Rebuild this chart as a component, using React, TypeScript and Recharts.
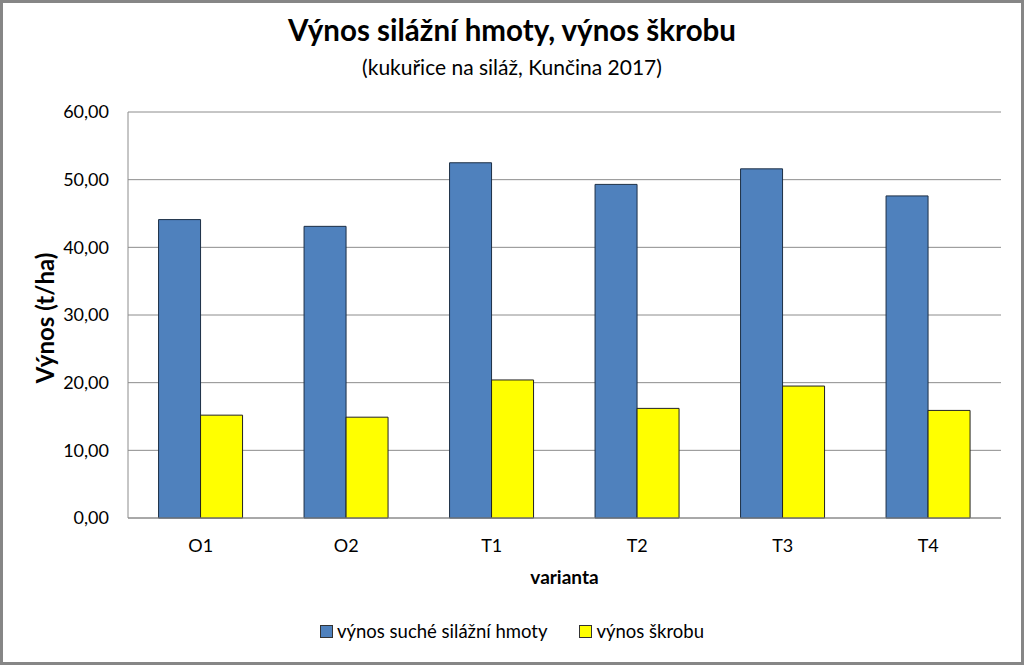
import React from 'react';
import { BarChart, Bar, XAxis, YAxis, CartesianGrid, Legend } from 'recharts';

const varianty = ['O1', 'O2', 'T1', 'T2', 'T3', 'T4'];
const vynosHmoty = [44.1, 43.1, 52.5, 49.3, 51.6, 47.6];
const vynosSkrobu = [15.2, 14.9, 20.4, 16.2, 19.5, 15.9];
const yTicks = [0, 10, 20, 30, 40, 50, 60];

const data = varianty.map((v, i) => ({
  varianta: v,
  hmota: vynosHmoty[i],
  skrob: vynosSkrobu[i],
}));

const font = 'Lato, "Noto Sans", sans-serif';
const gridColor = '#8c8c8c';

const formatTick = (n: number) => n.toFixed(2).replace('.', ',');

const LegendBox: React.FC<any> = ({ payload }) => (
  <div style={{ display: 'flex', justifyContent: 'center', alignItems: 'center', fontFamily: font, fontSize: 18.5, color: '#000' }}>
    {(payload || []).map((p: any, i: number) => (
      <div key={p.value} style={{ display: 'flex', alignItems: 'center', marginLeft: i === 0 ? 0 : 32 }}>
        <span
          style={{
            display: 'inline-block',
            width: 11,
            height: 11,
            background: p.color,
            border: '1px solid #333',
            marginRight: 4,
          }}
        />
        <span>{p.value}</span>
      </div>
    ))}
  </div>
);

const App: React.FC = () => {
  return (
    <div style={{ position: 'absolute', left: 0, top: 0, width: 1024, height: 665, background: '#fff', fontFamily: font }}>
      <BarChart
        width={1024}
        height={665}
        data={data}
        margin={{ top: 112, right: 23, bottom: 0, left: 0 }}
        barCategoryGap="21%"
        barGap={0}
      >
        <CartesianGrid vertical={false} stroke={gridColor} />
        <XAxis
          dataKey="varianta"
          height={147}
          axisLine={{ stroke: gridColor }}
          tickLine={false}
          tickSize={0}
          tickMargin={21}
          tick={{ fill: '#000', fontSize: 18, fontFamily: font }}
        />
        <YAxis
          domain={[0, 60]}
          ticks={yTicks}
          width={128}
          axisLine={{ stroke: gridColor }}
          tickLine={false}
          tickSize={0}
          tickMargin={19}
          tickFormatter={formatTick}
          tick={{ fill: '#000', fontSize: 18, fontFamily: font }}
        />
        <Legend
          verticalAlign="middle"
          align="center"
          layout="horizontal"
          content={<LegendBox />}
          wrapperStyle={{ top: 620, left: 0, width: 1024 }}
        />
        <Bar dataKey="hmota" name="výnos suché silážní hmoty" fill="#4F81BD" stroke="#1d2f45" strokeWidth={1} isAnimationActive={false} />
        <Bar dataKey="skrob" name="výnos škrobu" fill="#FFFF00" stroke="#222" strokeWidth={1} isAnimationActive={false} />
      </BarChart>

      <div style={{ position: 'absolute', top: 12, left: 0, width: 1024, textAlign: 'center', fontSize: 29.5, fontWeight: 700, color: '#000' }}>
        Výnos silážní hmoty, výnos škrobu
      </div>
      <div style={{ position: 'absolute', top: 54, left: 0, width: 1024, textAlign: 'center', fontSize: 21, color: '#000' }}>
        (kukuřice na siláž, Kunčina 2017)
      </div>
      <div style={{ position: 'absolute', top: 565, left: 128, width: 873, textAlign: 'center', fontSize: 19, fontWeight: 700, color: '#000' }}>
        varianta
      </div>
      <div
        style={{
          position: 'absolute',
          left: 44,
          top: 318,
          transform: 'translate(-50%, -50%) rotate(-90deg)',
          whiteSpace: 'nowrap',
          fontSize: 24,
          fontWeight: 700,
          color: '#000',
        }}
      >
        Výnos (t/ha)
      </div>
      <div
        style={{
          position: 'absolute',
          left: 0,
          top: 0,
          width: 1024,
          height: 665,
          boxSizing: 'border-box',
          border: '3px solid #868686',
          pointerEvents: 'none',
        }}
      />
    </div>
  );
};

export default App;
